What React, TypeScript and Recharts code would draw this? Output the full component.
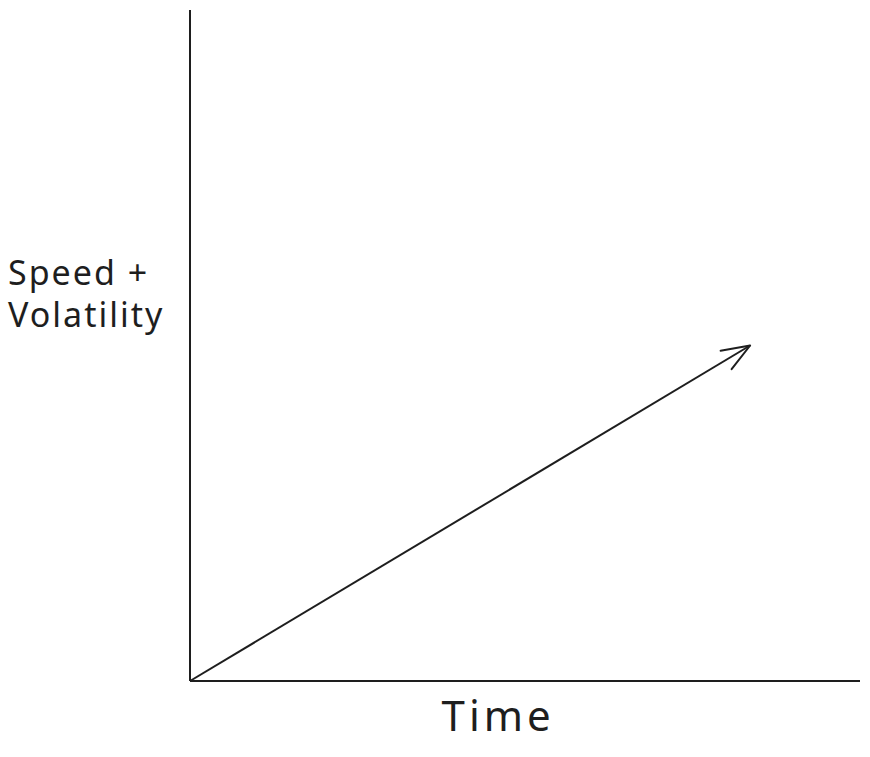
import { Label, Line, LineChart, XAxis, YAxis } from 'recharts';

const times = [0, 83.6];
const speeds = [0, 50];
const xLabel = 'Time';
const yLabel = ['Speed +', 'Volatility'];

const data = times.map((t, i) => ({ t, v: speeds[i] }));

const INK = '#1e1e1e';
const FONT = "'Noto Sans', sans-serif";

const start = { x: 0, y: 0 };

const ArrowDot = (props: any) => {
  const { cx, cy, index } = props;
  if (index === 0) {
    start.x = cx;
    start.y = cy;
    return <g key={`d${index}`} />;
  }
  const back = Math.atan2(start.y - cy, start.x - cx);
  const len = 30;
  const spread = (21 * Math.PI) / 180;
  const a1 = back + spread;
  const a2 = back - spread;
  const d = `M${cx + len * Math.cos(a1)},${cy + len * Math.sin(a1)} L${cx},${cy} L${
    cx + len * Math.cos(a2)
  },${cy + len * Math.sin(a2)}`;
  return (
    <path
      key={`d${index}`}
      d={d}
      fill="none"
      stroke={INK}
      strokeWidth={2}
      strokeLinecap="round"
      strokeLinejoin="round"
    />
  );
};

const YTitle = (props: any) => {
  const { viewBox } = props;
  const x = viewBox.x + 8;
  const y = viewBox.y + viewBox.height * 0.41;
  return (
    <text x={x} y={y} fill={INK} fontFamily={FONT} fontSize={34} letterSpacing={2}>
      <tspan x={x} dy={0}>{yLabel[0]}</tspan>
      <tspan x={x} dy={42}>{yLabel[1]}</tspan>
    </text>
  );
};

const XTitle = (props: any) => {
  const { viewBox } = props;
  const x = viewBox.x + viewBox.width * 0.46;
  const y = viewBox.y + 50;
  return (
    <text
      x={x}
      y={y}
      fill={INK}
      fontFamily={FONT}
      fontSize={42}
      letterSpacing={4}
      textAnchor="middle"
    >
      {xLabel}
    </text>
  );
};

export default function App() {
  return (
    <div style={{ position: 'absolute', left: 0, top: 0, background: '#fff' }}>
      <LineChart
        width={870}
        height={757}
        data={data}
        margin={{ top: 10, right: 10, bottom: 0, left: 0 }}
      >
        <XAxis
          type="number"
          dataKey="t"
          domain={[0, 100]}
          height={76}
          tick={false}
          tickLine={false}
          axisLine={{ stroke: INK, strokeWidth: 2 }}
        >
          <Label content={<XTitle />} />
        </XAxis>
        <YAxis
          type="number"
          domain={[0, 100]}
          width={190}
          tick={false}
          tickLine={false}
          axisLine={{ stroke: INK, strokeWidth: 2 }}
        >
          <Label content={<YTitle />} />
        </YAxis>
        <Line
          type="linear"
          dataKey="v"
          stroke={INK}
          strokeWidth={2}
          dot={<ArrowDot />}
          activeDot={false}
          isAnimationActive={false}
        />
      </LineChart>
    </div>
  );
}
